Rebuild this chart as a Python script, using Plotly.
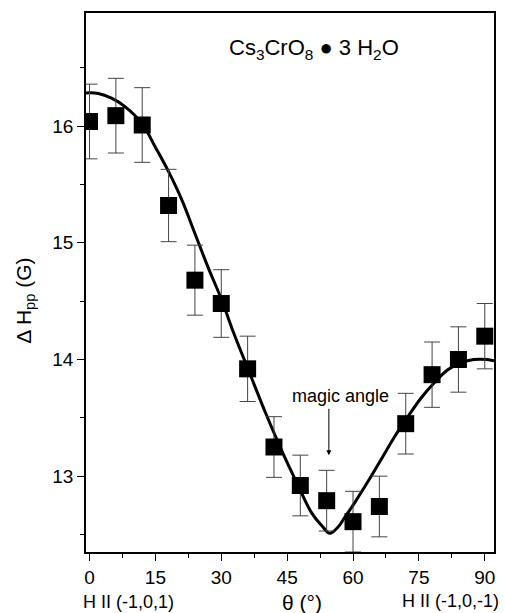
import plotly.graph_objects as go

# measured data (theta in degrees, linewidth in G)
theta = [0, 6, 12, 18, 24, 30, 36, 42, 48, 54, 60, 66, 72, 78, 84, 90]
dhpp = [16.04, 16.09, 16.01, 15.32, 14.68, 14.48, 13.92, 13.25,
        12.92, 12.79, 12.61, 12.74, 13.45, 13.87, 14.00, 14.20]
err = [0.32, 0.32, 0.32, 0.31, 0.30, 0.29, 0.28, 0.26,
       0.26, 0.26, 0.26, 0.26, 0.26, 0.28, 0.28, 0.28]

# fitted curve, points
theta_fit = [-0.8, 2, 5, 8, 12, 15, 18, 21, 24, 27, 30, 32.5, 36.5, 40, 44,
             47.5, 50.5, 53, 54.7, 56.5, 58, 60.5, 63.5, 66.5, 69.5, 72.5,
             75.5, 78.5, 81.5, 84.5, 87.5, 90.5, 92.1]
dhpp_fit = [16.285, 16.28, 16.24, 16.17, 16.02, 15.82, 15.61, 15.37, 15.08,
            14.79, 14.52, 14.26, 13.88, 13.55, 13.20, 12.92, 12.69, 12.57,
            12.51, 12.56, 12.64, 12.78, 12.96, 13.15, 13.34, 13.51, 13.67,
            13.80, 13.91, 13.97, 14.00, 14.00, 13.99]

x_ticks = [0, 15, 30, 45, 60, 75, 90]
y_ticks = [13, 14, 15, 16]

FONT = "Liberation Sans, Arial, sans-serif"

fig = go.Figure()
fig.add_trace(go.Scatter(
    x=theta_fit, y=dhpp_fit, mode="lines", line=dict(color="black", width=3, shape="spline"),
    showlegend=False, hoverinfo="skip"))
fig.add_trace(go.Scatter(
    x=theta, y=dhpp, mode="markers",
    marker=dict(symbol="square", size=17, color="black"),
    error_y=dict(type="data", array=err, visible=True, color="#444", thickness=1, width=8),
    showlegend=False))

axis_common = dict(showline=True, linecolor="black", linewidth=1.5, mirror=True,
                   ticks="outside", ticklen=7, tickwidth=1.2, tickcolor="black",
                   showgrid=False, zeroline=False,
                   tickfont=dict(family=FONT, size=19, color="black"))

fig.update_xaxes(range=[-0.8, 92.1], tickvals=x_ticks,
                 minor=dict(ticks="outside", ticklen=4, tickwidth=1.2, tickcolor="black",
                            dtick=7.5, tick0=0, showgrid=False),
                 **axis_common)
fig.update_yaxes(range=[12.35, 16.97], tickvals=y_ticks,
                 minor=dict(ticks="outside", ticklen=4, tickwidth=1.2, tickcolor="black",
                            dtick=0.5, tick0=0, showgrid=False),
                 **axis_common)

ann_font = dict(family=FONT, size=18, color="black")
fig.add_annotation(x=51.2, y=16.66, xref="x", yref="y",
                   text="Cs<sub>3</sub>CrO<sub>8</sub> \u25cf 3 H<sub>2</sub>O",
                   showarrow=False, font=dict(family=FONT, size=22, color="black"),
                   xanchor="center", yanchor="middle")
fig.add_annotation(x=57.1, y=13.69, xref="x", yref="y", text="magic angle",
                   showarrow=False, font=ann_font, xanchor="center", yanchor="middle")
fig.add_annotation(x=54.5, y=13.18, xref="x", yref="y", ax=54.5, ay=13.59,
                   axref="x", ayref="y", text="", showarrow=True,
                   arrowhead=2, arrowsize=1, arrowwidth=1, arrowcolor="black")
fig.add_annotation(x=8.8, y=-0.093, xref="x", yref="paper", text="H II (-1,0,1)",
                   showarrow=False, font=ann_font, xanchor="center", yanchor="middle")
fig.add_annotation(x=82.3, y=-0.091, xref="x", yref="paper", text="H II (-1,0,-1)",
                   showarrow=False, font=ann_font, xanchor="center", yanchor="middle")
fig.add_annotation(x=48.4, y=-0.094, xref="x", yref="paper", text="\u03b8 (\u00b0)",
                   showarrow=False, font=dict(family=FONT, size=21, color="black"),
                   xanchor="center", yanchor="middle")
fig.add_annotation(x=-0.15, y=(552 - 301) / 539, xref="paper", yref="paper",
                   text="\u0394 H<sub>pp</sub> (G)", textangle=-90,
                   showarrow=False, font=dict(family=FONT, size=21, color="black"),
                   xanchor="center", yanchor="middle")

fig.update_layout(width=505, height=613, plot_bgcolor="white", paper_bgcolor="white",
                  margin=dict(l=86, r=9, t=13, b=61), autosize=False)

fig.write_html("out.html", config={"displayModeBar": False},
               post_script="document.body.style.margin='0';document.body.style.overflow='hidden';")
